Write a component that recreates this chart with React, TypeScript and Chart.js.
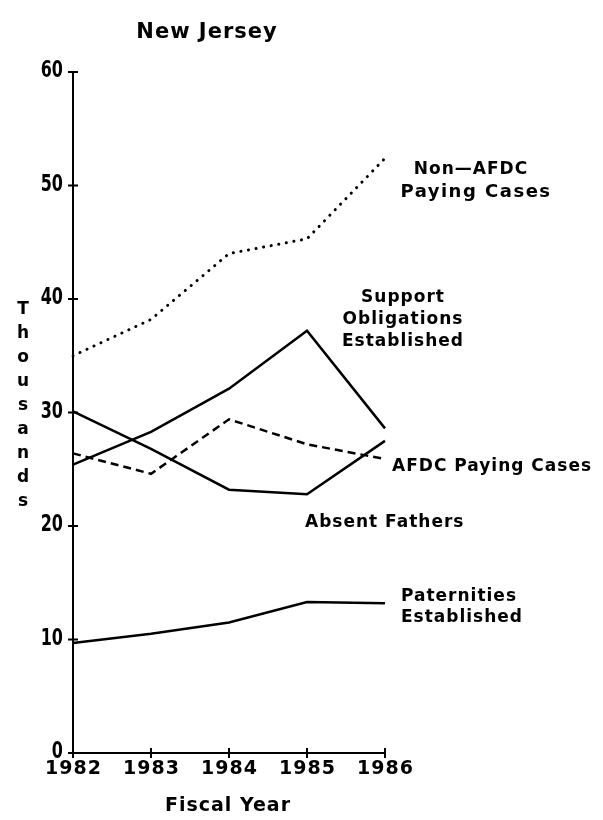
import React, { useEffect, useRef } from "react";
import { Chart, registerables } from "chart.js";

Chart.register(...registerables);

const years = ["1982", "1983", "1984", "1985", "1986"];
const nonAfdcPaying = [35.0, 38.2, 44.0, 45.3, 52.4];
const supportObligations = [25.4, 28.3, 32.1, 37.2, 28.6];
const absentFathers = [30.1, 26.8, 23.2, 22.8, 27.5];
const afdcPaying = [26.4, 24.6, 29.4, 27.2, 25.9];
const paternities = [9.7, 10.5, 11.5, 13.3, 13.2];
const yTicks = [0, 10, 20, 30, 40, 50, 60];

const chartTitle = "New Jersey";
const xTitle = "Fiscal Year";
const yTitle = "Thousands";

const FONT = "'DejaVu Sans', sans-serif";

const labelsPlugin = {
  id: "labelsPlugin",
  afterDraw(chart: any) {
    const ctx = chart.ctx as any;
    const xs = chart.scales.x;
    const ys = chart.scales.y;
    ctx.save();
    ctx.fillStyle = "#000";
    ctx.strokeStyle = "#000";
    ctx.lineWidth = 2;
    // y ticks crossing axis + tall condensed labels
    const ax = ys.right;
    ctx.textAlign = "right";
    ctx.textBaseline = "middle";
    ctx.font = `bold 16px ${FONT}`;
    yTicks.forEach((v) => {
      const py = ys.getPixelForValue(v);
      ctx.beginPath();
      ctx.moveTo(ax - 5, py);
      ctx.lineTo(ax + 5, py);
      ctx.stroke();
      ctx.save();
      ctx.translate(ax - 10, py - 1);
      ctx.scale(1, 1.45);
      ctx.fillText(String(v), 0, 0);
      ctx.restore();
    });
    // x ticks crossing axis + labels
    const ay = xs.top;
    ctx.textAlign = "center";
    ctx.letterSpacing = "1px";
    ctx.font = `bold 19px ${FONT}`;
    years.forEach((yr, i) => {
      const px = xs.getPixelForValue(i);
      ctx.beginPath();
      ctx.moveTo(px, ay - 5);
      ctx.lineTo(px, ay + 5);
      ctx.stroke();
      ctx.fillText(yr, px + 0.5, ay + 16);
    });

    // title
    ctx.font = `bold 21px ${FONT}`;
    ctx.fillText(chartTitle, 207, 33);
    // x title
    ctx.font = `bold 19px ${FONT}`;
    ctx.fillText(xTitle, 228, 806);
    // y title stacked letters
    ctx.letterSpacing = "0px";
    ctx.font = `bold 17px ${FONT}`;
    yTitle.split("").forEach((ch, i) => {
      ctx.fillText(ch, 23, 310 + i * 24);
    });

    // annotations
    const center = (t: string, x: number, y: number, sp = 1, size = 17) => {
      ctx.font = `bold ${size}px ${FONT}`;
      ctx.letterSpacing = `${sp}px`;
      ctx.textAlign = "center";
      ctx.fillText(t, x, y);
    };
    const left = (t: string, x: number, y: number, sp = 1, size = 17) => {
      ctx.font = `bold ${size}px ${FONT}`;
      ctx.letterSpacing = `${sp}px`;
      ctx.textAlign = "left";
      ctx.fillText(t, x, y);
    };
    center("Non\u2014AFDC", 471, 170);
    center("Paying Cases", 476, 192, 1.5, 18);
    center("Support", 403, 298);
    center("Obligations", 403, 320);
    center("Established", 403, 342);
    left("AFDC Paying Cases", 392, 467);
    left("Absent Fathers", 305, 523);
    center("Paternities", 459, 597);
    center("Established", 462, 618);
    ctx.restore();
  },
};

export default function App() {
  const ref = useRef<HTMLCanvasElement | null>(null);
  useEffect(() => {
    if (!ref.current) return;
    const common = {
      borderColor: "#000",
      borderWidth: 2.5,
      pointRadius: 0,
      tension: 0,
      fill: false,
    };
    const chart = new Chart(ref.current, {
      type: "line",
      data: {
        labels: years,
        datasets: [
          {
            ...common,
            label: "Non-AFDC Paying Cases",
            data: nonAfdcPaying,
            borderWidth: 3,
            borderDash: [0.1, 7.6],
            borderCapStyle: "round",
          },
          { ...common, label: "Support Obligations Established", data: supportObligations },
          { ...common, label: "Absent Fathers", data: absentFathers },
          { ...common, label: "AFDC Paying Cases", data: afdcPaying, borderDash: [8, 5] },
          { ...common, label: "Paternities Established", data: paternities },
        ],
      },
      options: {
        animation: false,
        responsive: false,
        maintainAspectRatio: false,
        layout: { padding: { left: 0, top: 72, right: 218, bottom: 27 } },
        plugins: { legend: { display: false }, title: { display: false }, tooltip: { enabled: false } },
        scales: {
          x: {
            type: "category",
            offset: false,
            grid: { display: false, drawTicks: false },
            border: { display: true, color: "#000", width: 2 },
            ticks: { display: false },
            afterFit: (s: any) => {
              s.height = 40;
            },
          },
          y: {
            min: 0,
            max: 60,
            grid: { display: false, drawTicks: false },
            border: { display: true, color: "#000", width: 2 },
            ticks: { display: false, stepSize: 10 },
            afterFit: (s: any) => {
              s.width = 73;
            },
          },
        },
      },
      plugins: [labelsPlugin],
    } as any);
    return () => chart.destroy();
  }, []);
  return (
    <canvas
      ref={ref}
      width={603}
      height={820}
      style={{ position: "absolute", left: 0, top: 0, width: 603, height: 820, background: "#fff" }}
    />
  );
}
